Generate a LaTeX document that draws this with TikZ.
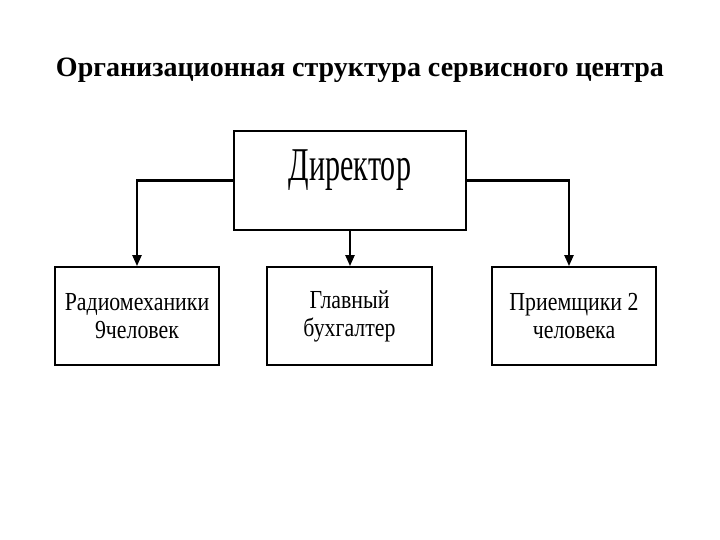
\documentclass[tikz,border=0pt]{standalone}
\usepackage{fontspec}
\setmainfont{Liberation Serif}
\newfontfamily\headfont[FakeStretch=0.64]{Liberation Serif}
\newfontfamily\boxfont[FakeStretch=0.84]{Liberation Serif}
\usetikzlibrary{arrows.meta}

\begin{document}
\begin{tikzpicture}[x=1pt,y=-1pt,
  box/.style={draw,line width=1.8pt,inner sep=0pt,align=center},
  small/.style={box,minimum width=164pt,minimum height=98pt,
    font=\boxfont\fontsize{26}{28}\selectfont},
  link/.style={line width=2.2pt,-{Triangle[width=9pt,length=11pt]}}]
  \useasboundingbox (0,0) rectangle (720,540);
  % title
  \node (title) at (360,70) {\fontsize{28}{32}\selectfont\bfseries
    Организационная структура сервисного центра};
  % boxes
  \node[box,minimum width=232pt,minimum height=99pt] (dir) at (350,180.5) {};
  \node[font=\headfont\fontsize{47}{47}\selectfont] (dirtext) at (350,170) {Директор};
  \node[small] (rad) at (137,316) {Радиомеханики\\9человек};
  \node[small,minimum width=165pt] (buh) at (349.5,316) {Главный\\бухгалтер};
  \node[small] (pri) at (574,316) {Приемщики 2\\человека};
  % connectors
  \draw[link] (dir.west) -| (rad.north);
  \draw[link] (dir.south) -- (dir.south |- buh.north);
  \draw[link] (dir.east) -| ([xshift=-5pt]pri.north);
\end{tikzpicture}
\end{document}
